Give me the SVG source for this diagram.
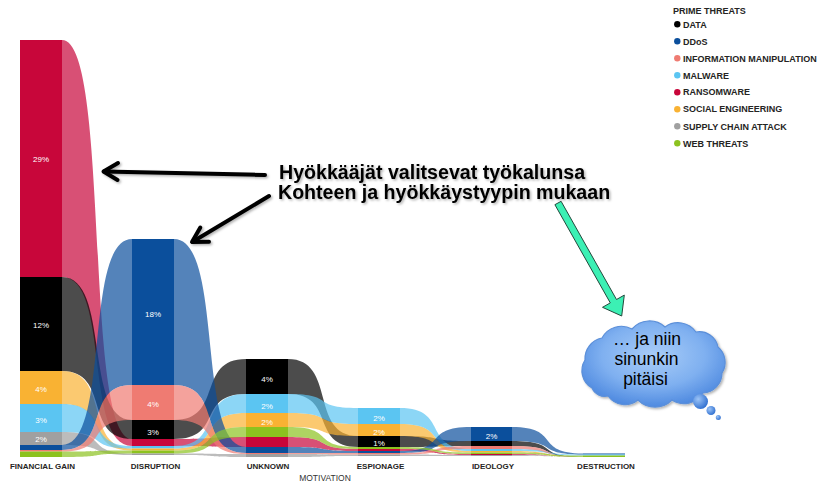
<svg xmlns="http://www.w3.org/2000/svg" width="820" height="485" viewBox="0 0 820 485">
<defs>
<style>
.rb path{opacity:0.7}
.ran{fill:#c8063a}.dat{fill:#000}.soc{fill:#f9b233}.mal{fill:#5bc5f2}.sup{fill:#a0a0a0}.ddo{fill:#0b4f9c}.inf{fill:#ef7b72}.web{fill:#8cc21f}
.pct{font-family:"Liberation Sans",Arial,sans-serif;font-size:8px;fill:#fff;text-anchor:middle}
.ax{font-family:"Liberation Sans",Arial,sans-serif;font-size:8px;font-weight:bold;fill:#252423;text-anchor:middle}
.lg{font-family:"Liberation Sans",Arial,sans-serif;font-size:9px;font-weight:bold;fill:#252423}
.ann{font-family:"Liberation Sans",Arial,sans-serif;font-size:19.6px;font-weight:bold;fill:#000}
.arr{fill:none;stroke:#000;stroke-width:4;stroke-linecap:round;stroke-linejoin:round}
.cl{font-family:"Liberation Sans",Arial,sans-serif;font-size:17.5px;fill:#000;text-anchor:middle}
</style>
<filter id="sh" x="-10%" y="-20%" width="130%" height="160%">
<feDropShadow dx="1.5" dy="1.5" stdDeviation="1" flood-color="#000" flood-opacity="0.3"/>
</filter>
<radialGradient id="cg" cx="50%" cy="40%" r="60%">
<stop offset="0" stop-color="#a9cdf8"/>
<stop offset="0.6" stop-color="#7fb0f0"/>
<stop offset="1" stop-color="#4f8ae0"/>
</radialGradient>
<radialGradient id="bg" cx="35%" cy="35%" r="70%">
<stop offset="0" stop-color="#9cc4f7"/>
<stop offset="1" stop-color="#2f6fd0"/>
</radialGradient>
</defs>
<rect width="820" height="485" fill="#fff"/>

<g id="ribbons" class="rb">
<!-- FG -> Disruption -->
<path class="ran" d="M62 40 C111 40 83 439 132 439 L132 446 C83 446 111 277 62 277 Z"/>
<path class="dat" d="M62 277 C111 277 83 420 132 420 L132 439 C83 439 111 371 62 371 Z"/>
<path class="soc" d="M62 371 C111 371 83 448.5 132 448.5 L132 450.5 C83 450.5 111 404 62 404 Z"/>
<path class="mal" d="M62 404 C111 404 83 446 132 446 L132 448.5 C83 448.5 111 432 62 432 Z"/>
<path class="sup" d="M62 432 C111 432 83 453.5 132 453.5 L132 455 C83 455 111 445 62 445 Z"/>
<path class="ddo" d="M62 445 C111 445 83 239 132 239 L132 385 C83 385 111 450 62 450 Z"/>
<path class="inf" d="M62 450 C111 450 83 385 132 385 L132 420 C83 420 111 451.5 62 451.5 Z"/>
<path class="web" d="M62 451.5 C111 451.5 83 450.5 132 450.5 L132 453.5 C83 453.5 111 457 62 457 Z"/>
<!-- Disruption -> Unknown -->
<path class="ran" d="M174 439 C224.4 439 195.6 437 246 437 L246 447 C195.6 447 224.4 446 174 446 Z"/>
<path class="dat" d="M174 420 C224.4 420 195.6 359 246 359 L246 394 C195.6 394 224.4 439 174 439 Z"/>
<path class="soc" d="M174 448.5 C224.4 448.5 195.6 413 246 413 L246 427 C195.6 427 224.4 450.5 174 450.5 Z"/>
<path class="mal" d="M174 446 C224.4 446 195.6 394 246 394 L246 413 C195.6 413 224.4 448.5 174 448.5 Z"/>
<path class="sup" d="M174 453.5 C224.4 453.5 195.6 454 246 454 L246 457 C195.6 457 224.4 455 174 455 Z"/>
<path class="ddo" d="M174 239 C224.4 239 195.6 447 246 447 L246 453 C195.6 453 224.4 385 174 385 Z"/>
<path class="inf" d="M174 385 C224.4 385 195.6 453 246 453 L246 454 C195.6 454 224.4 420 174 420 Z"/>
<path class="web" d="M174 450.5 C224.4 450.5 195.6 427 246 427 L246 437 C195.6 437 224.4 453.5 174 453.5 Z"/>
<!-- Unknown -> Espionage -->
<path class="ran" d="M288 437 C337 437 309 449 358 449 L358 451 C309 451 337 447 288 447 Z"/>
<path class="dat" d="M288 359 C337 359 309 436 358 436 L358 447 C309 447 337 394 288 394 Z"/>
<path class="soc" d="M288 413 C337 413 309 424 358 424 L358 436 C309 436 337 427 288 427 Z"/>
<path class="mal" d="M288 394 C337 394 309 408 358 408 L358 424 C309 424 337 413 288 413 Z"/>
<path class="sup" d="M288 454 C337 454 309 454.5 358 454.5 L358 456 C309 456 337 457 288 457 Z"/>
<path class="ddo" d="M288 447 C337 447 309 451 358 451 L358 453 C309 453 337 453 288 453 Z"/>
<path class="inf" d="M288 453 C337 453 309 453 358 453 L358 454.5 C309 454.5 337 454 288 454 Z"/>
<path class="web" d="M288 427 C337 427 309 447 358 447 L358 449 C309 449 337 437 288 437 Z"/>
<!-- Espionage -> Ideology -->
<path class="ran" d="M400 449 C449.7 449 421.3 454 471 454 L471 455 C421.3 455 449.7 451 400 451 Z"/>
<path class="dat" d="M400 436 C449.7 436 421.3 441 471 441 L471 446 C421.3 446 449.7 447 400 447 Z"/>
<path class="soc" d="M400 424 C449.7 424 421.3 451 471 451 L471 452.5 C421.3 452.5 449.7 436 400 436 Z"/>
<path class="mal" d="M400 408 C449.7 408 421.3 449 471 449 L471 451 C421.3 451 449.7 424 400 424 Z"/>
<path class="sup" d="M400 454.5 C449.7 454.5 421.3 455 471 455 L471 456 C421.3 456 449.7 456 400 456 Z"/>
<path class="ddo" d="M400 451 C449.7 451 421.3 427 471 427 L471 441 C421.3 441 449.7 453 400 453 Z"/>
<path class="inf" d="M400 453 C449.7 453 421.3 446 471 446 L471 449 C421.3 449 449.7 454.5 400 454.5 Z"/>
<path class="web" d="M400 447 C449.7 447 421.3 452.5 471 452.5 L471 454 C421.3 454 449.7 449 400 449 Z"/>
<!-- Ideology -> Destruction -->
<path class="ran" d="M512 454 C561.7 454 533.3 457 583 457 C533.3 457 561.7 455 512 455 Z"/>
<path class="dat" d="M512 441 C561.7 441 533.3 457 583 457 C533.3 457 561.7 446 512 446 Z"/>
<path class="soc" d="M512 451 C561.7 451 533.3 457 583 457 C533.3 457 561.7 452.5 512 452.5 Z"/>
<path class="mal" d="M512 449 C561.7 449 533.3 454.5 583 454.5 L583 455.5 C533.3 455.5 561.7 451 512 451 Z"/>
<path class="sup" d="M512 455 C561.7 455 533.3 457 583 457 C533.3 457 561.7 456 512 456 Z"/>
<path class="ddo" d="M512 427 C561.7 427 533.3 453.5 583 453.5 L583 454.5 C533.3 454.5 561.7 441 512 441 Z"/>
<path class="inf" d="M512 446 C561.7 446 533.3 457 583 457 C533.3 457 561.7 449 512 449 Z"/>
<path class="web" d="M512 452.5 C561.7 452.5 533.3 455.5 583 455.5 L583 457 C533.3 457 561.7 454 512 454 Z"/>
</g>

<g id="col-financial-gain">
<rect class="ran" x="20" y="40" width="42" height="237"/>
<rect class="dat" x="20" y="277" width="42" height="94"/>
<rect class="soc" x="20" y="371" width="42" height="33"/>
<rect class="mal" x="20" y="404" width="42" height="28"/>
<rect class="sup" x="20" y="432" width="42" height="13"/>
<rect class="ddo" x="20" y="445" width="42" height="5"/>
<rect class="inf" x="20" y="450" width="42" height="1.5"/>
<rect class="web" x="20" y="451.5" width="42" height="5.5"/>
<text class="pct" x="41" y="162">29%</text>
<text class="pct" x="41" y="328">12%</text>
<text class="pct" x="41" y="392">4%</text>
<text class="pct" x="41" y="423">3%</text>
<text class="pct" x="41" y="442">2%</text>
<text class="ax" x="42.5" y="468.8">FINANCIAL GAIN</text>
</g>

<g id="col-disruption">
<rect class="ddo" x="132" y="239" width="42" height="146"/>
<rect class="inf" x="132" y="385" width="42" height="35"/>
<rect class="dat" x="132" y="420" width="42" height="19"/>
<rect class="ran" x="132" y="439" width="42" height="7"/>
<rect class="mal" x="132" y="446" width="42" height="2.5"/>
<rect class="soc" x="132" y="448.5" width="42" height="2"/>
<rect class="web" x="132" y="450.5" width="42" height="3"/>
<rect class="sup" x="132" y="453.5" width="42" height="1.5"/>
<text class="pct" x="153" y="317">18%</text>
<text class="pct" x="153" y="407">4%</text>
<text class="pct" x="153" y="434.5">3%</text>
<text class="ax" x="155.5" y="468.8">DISRUPTION</text>
</g>

<g id="col-unknown">
<rect class="dat" x="246" y="359" width="42" height="35"/>
<rect class="mal" x="246" y="394" width="42" height="19"/>
<rect class="soc" x="246" y="413" width="42" height="14"/>
<rect class="web" x="246" y="427" width="42" height="10"/>
<rect class="ran" x="246" y="437" width="42" height="10"/>
<rect class="ddo" x="246" y="447" width="42" height="6"/>
<rect class="inf" x="246" y="453" width="42" height="1"/>
<rect class="sup" x="246" y="454" width="42" height="3"/>
<text class="pct" x="267" y="382">4%</text>
<text class="pct" x="267" y="408.5">2%</text>
<text class="pct" x="267" y="424.5">2%</text>
<text class="ax" x="268" y="468.8">UNKNOWN</text>
</g>

<g id="col-espionage">
<rect class="mal" x="358" y="408" width="42" height="16"/>
<rect class="soc" x="358" y="424" width="42" height="12"/>
<rect class="dat" x="358" y="436" width="42" height="11"/>
<rect class="web" x="358" y="447" width="42" height="2"/>
<rect class="ran" x="358" y="449" width="42" height="2"/>
<rect class="ddo" x="358" y="451" width="42" height="2"/>
<rect class="inf" x="358" y="453" width="42" height="1.5"/>
<rect class="sup" x="358" y="454.5" width="42" height="1.5"/>
<text class="pct" x="379" y="420.5">2%</text>
<text class="pct" x="379" y="434.5">2%</text>
<text class="pct" x="379" y="446">1%</text>
<text class="ax" x="380.5" y="468.8">ESPIONAGE</text>
</g>

<g id="col-ideology">
<rect class="ddo" x="471" y="427" width="41" height="14"/>
<rect class="dat" x="471" y="441" width="41" height="5"/>
<rect class="inf" x="471" y="446" width="41" height="3"/>
<rect class="mal" x="471" y="449" width="41" height="2"/>
<rect class="soc" x="471" y="451" width="41" height="1.5"/>
<rect class="web" x="471" y="452.5" width="41" height="1.5"/>
<rect class="ran" x="471" y="454" width="41" height="1"/>
<rect class="sup" x="471" y="455" width="41" height="1"/>
<text class="pct" x="491.5" y="438.5">2%</text>
<text class="ax" x="493" y="468.8">IDEOLOGY</text>
</g>

<g id="col-destruction">
<rect class="ddo" x="583" y="453.5" width="42" height="1"/>
<rect class="mal" x="583" y="454.5" width="42" height="1"/>
<rect class="web" x="583" y="455.5" width="42" height="1.5"/>
<text class="ax" x="606" y="468.8">DESTRUCTION</text>
</g>

<text id="axis-title" x="325" y="481" font-family="Liberation Sans, Arial, sans-serif" font-size="8.5" fill="#333" text-anchor="middle">MOTIVATION</text>

<g id="legend">
<text class="lg" x="673" y="13.5">PRIME THREATS</text>
<circle class="dat" cx="677.3" cy="24.3" r="3.2"/><text class="lg" x="683" y="27.5">DATA</text>
<circle class="ddo" cx="677.3" cy="41.3" r="3.2"/><text class="lg" x="683" y="44.5">DDoS</text>
<circle class="inf" cx="677.3" cy="58.3" r="3.2"/><text class="lg" x="683" y="61.5">INFORMATION MANIPULATION</text>
<circle class="mal" cx="677.3" cy="75.3" r="3.2"/><text class="lg" x="683" y="78.5">MALWARE</text>
<circle class="ran" cx="677.3" cy="92.2" r="3.2"/><text class="lg" x="683" y="95.4">RANSOMWARE</text>
<circle class="soc" cx="677.3" cy="109.2" r="3.2"/><text class="lg" x="683" y="112.4">SOCIAL ENGINEERING</text>
<circle class="sup" cx="677.3" cy="126.3" r="3.2"/><text class="lg" x="683" y="129.5">SUPPLY CHAIN ATTACK</text>
<circle class="web" cx="677.3" cy="143.3" r="3.2"/><text class="lg" x="683" y="146.5">WEB THREATS</text>
</g>

<g id="annotation" filter="url(#sh)">
<text class="ann" x="279" y="178.5">Hyökkääjät valitsevat työkalunsa</text>
<text class="ann" x="278" y="198.5">Kohteen ja hyökkäystyypin mukaan</text>
</g>

<g id="annotation-arrows" filter="url(#sh)">
<path class="arr" d="M265 175 L104 171.5"/>
<path class="arr" d="M118 163 L103.5 171.5 L117.5 180"/>
<path class="arr" d="M269 196 L193 241.5"/>
<path class="arr" d="M200.3 227.5 L192 242 L209 241.7"/>
</g>

<g id="green-arrow">
<polygon points="554.9,204.7 561.1,201.3 616.5,299.5 624.3,295.1 621.7,316 602.5,307.3 610.3,302.9" fill="#3cf0b4" stroke="#24483c" stroke-width="1" stroke-linejoin="miter"/>
</g>

<g id="cloud">
<path filter="url(#sh)" d="M592 388 A20 20 0 0 1 585 360 A21 21 0 0 1 602 338 A22 22 0 0 1 632 329 A23 23 0 0 1 665 327 A22 22 0 0 1 696 332 A19 19 0 0 1 718 347 A20 20 0 0 1 722 373 A20 20 0 0 1 703 393 A22 22 0 0 1 672 400 A24 24 0 0 1 638 400 A21 21 0 0 1 608 396 A14 14 0 0 1 592 388 Z" fill="url(#cg)" stroke="#5b8fd9" stroke-width="1.2"/>
<circle cx="700.5" cy="401.5" r="7.5" fill="url(#bg)"/>
<circle cx="711" cy="410.5" r="4.5" fill="url(#bg)"/>
<circle cx="718.3" cy="417.5" r="2.5" fill="url(#bg)"/>
<text class="cl" x="647" y="345">… ja niin</text>
<text class="cl" x="646.5" y="365">sinunkin</text>
<text class="cl" x="645.5" y="385">pitäisi</text>
</g>
</svg>
